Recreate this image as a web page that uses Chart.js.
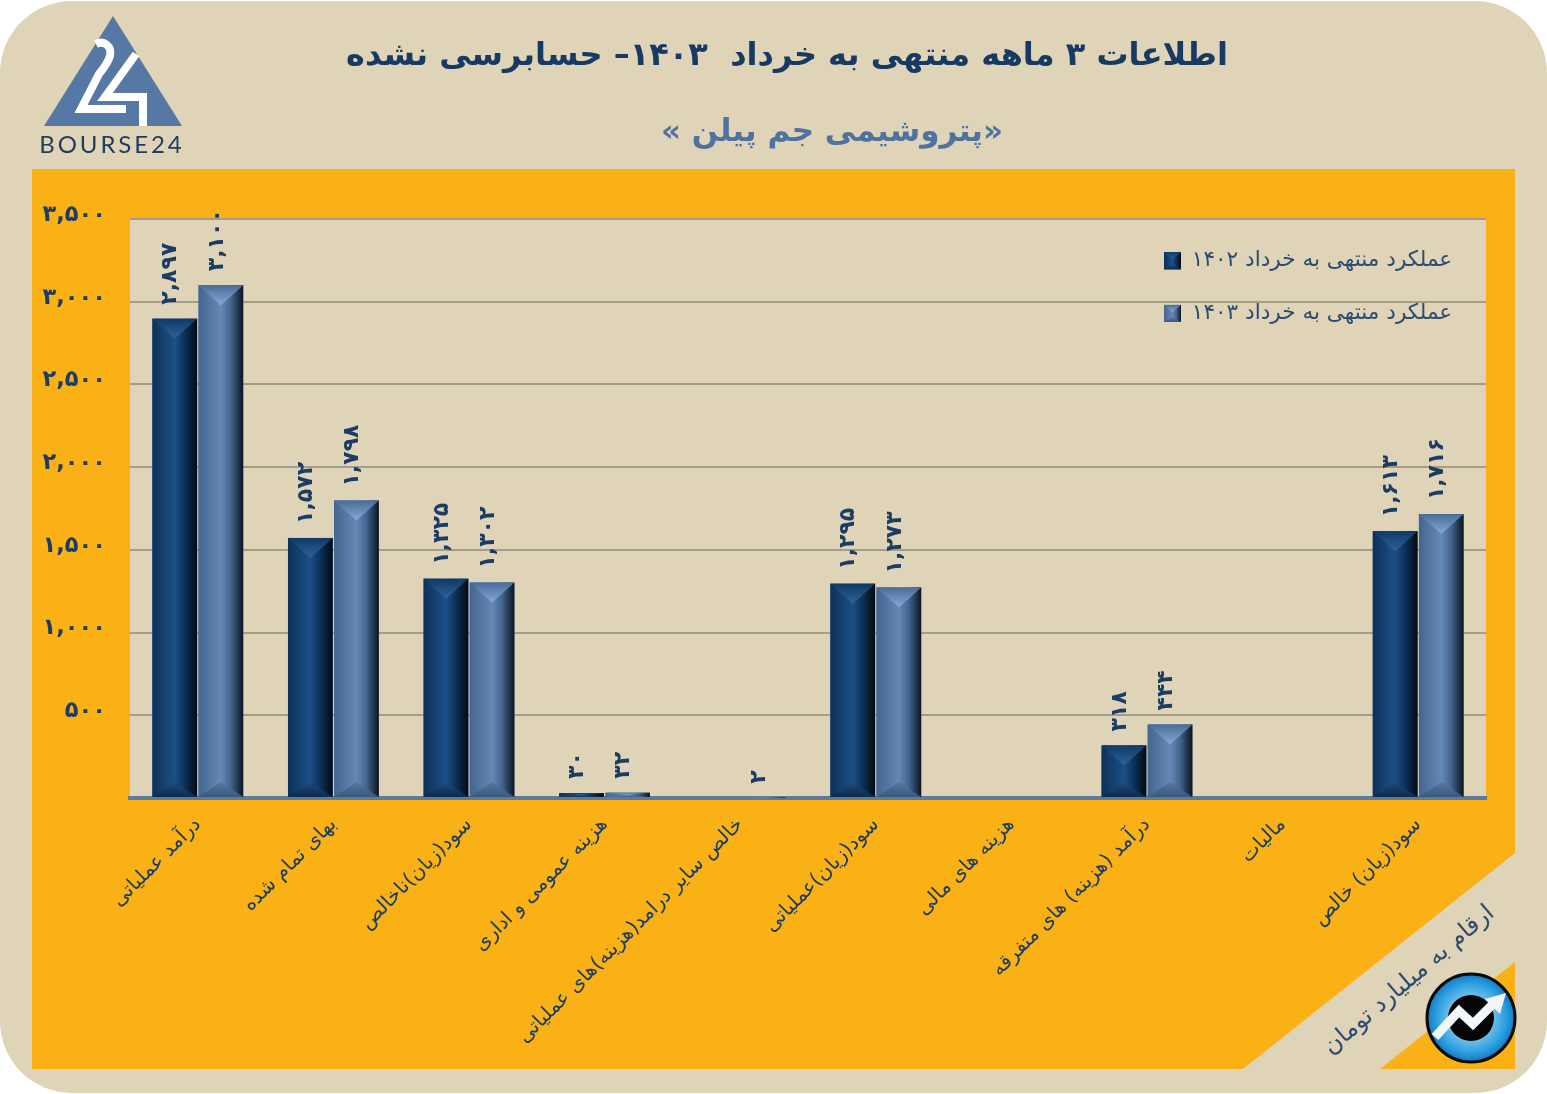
<!DOCTYPE html>
<html lang="fa">
<head>
<meta charset="utf-8">
<title>پتروشیمی جم پیلن</title>
<script src="https://cdn.jsdelivr.net/npm/chart.js@4/dist/chart.umd.min.js"></script>
<style>
html,body{margin:0;padding:0;background:#fff;width:1547px;height:1094px;overflow:hidden}
#stage{position:relative;width:1547px;height:1094px}
#bg,#chart,#over{position:absolute;left:0;top:0}
.t{position:absolute;font-family:"DejaVu Sans",sans-serif;white-space:pre;transform:translate(-50%,-50%);direction:rtl}
#title{left:787px;top:54px;font-size:32px;font-weight:bold;color:#173a62}
#sub{left:832px;top:130px;font-size:31px;font-weight:bold;color:#4f729e}
#note{left:1408px;top:979px;font-size:24px;color:#2c4c72;transform:translate(-50%,-50%) rotate(-40.5deg)}
#brand{left:112px;top:143px;font-family:Lato,sans-serif;font-size:24px;color:#1d3c5e;letter-spacing:2.9px;direction:ltr}
</style>
</head>
<body>
<div id="stage">
<svg id="bg" width="1547" height="1094" viewBox="0 0 1547 1094">
  <rect x="0" y="1" width="1547" height="1092" rx="72" fill="#dfd3b8"/>
  <polygon points="32,169 1515,169 1515,853 1243,1069 32,1069" fill="#f9b116"/>
  <polygon points="1380,1069 1515,1069 1515,962" fill="#f9b116"/>
</svg>
<canvas id="chart" width="1547" height="1094"></canvas>
<svg id="over" width="1547" height="1094" viewBox="0 0 1547 1094">
  <defs>
    <radialGradient id="blue" cx="50%" cy="50%" r="50%">
      <stop offset="0.45" stop-color="#7cc4ee"/><stop offset="0.8" stop-color="#2a9ee0"/><stop offset="1" stop-color="#1577c0"/>
    </radialGradient>
  </defs>
  <polygon points="113,16 182,126 44,126" fill="#5578a4"/>
  <path d="M96,44 C104,40 112,46 110,56 C108,62 104,68 99,74 L81,109 L126,109" fill="none" stroke="#fff" stroke-width="8"/>
  <path d="M136,54 L105,97 L143,97 L143,126" fill="none" stroke="#fff" stroke-width="8"/>
  <circle cx="1471" cy="1018" r="44" fill="url(#blue)" stroke="#0a0a0a" stroke-width="3"/>
  <circle cx="1471" cy="1018" r="23" fill="#050505"/>
  <polyline points="1435,1037 1459,1011 1473,1024 1494,1003" fill="none" stroke="#f2f6f8" stroke-width="9"/>
  <polygon points="1506,993 1500,1014 1485,999" fill="#f2f6f8"/>
</svg>
<div class="t" id="title">اطلاعات ۳ ماهه منتهی به خرداد  ۱۴۰۳– حسابرسی نشده</div>
<div class="t" id="sub">«پتروشیمی جم پیلن »</div>
<div class="t" id="note">ارقام به میلیارد تومان</div>
<div class="t" id="brand">BOURSE24</div>
</div>
<script>
const categories = [
  'درآمد عملیاتی',
  'بهای تمام شده',
  'سود(زیان)ناخالص',
  'هزینه عمومی و اداری',
  'خالص سایر درامد(هزینه)های عملیاتی',
  'سود(زیان)عملیاتی',
  'هزینه های مالی',
  'درآمد (هزینه) های متفرقه',
  'مالیات',
  'سود(زیان) خالص'
];
const series1402 = [2897, 1572, 1325, 30, 0, 1295, 0, 318, 0, 1613];
const series1403 = [3100, 1798, 1302, 32, 2, 1273, 0, 444, 0, 1716];
const seriesNames = ['عملکرد منتهی به خرداد ۱۴۰۲', 'عملکرد منتهی به خرداد ۱۴۰۳'];
const yTicks = [0, 500, 1000, 1500, 2000, 2500, 3000, 3500];

const INK = '#1b3d63';
const FONT = '"DejaVu Sans", sans-serif';
const LEGEND_GAP = 31;
const LEGEND_FONT = 21.6;
const fa = n => String(n).replace(/\B(?=(\d{3})+$)/g, ',').replace(/\d/g, d => '۰۱۲۳۴۵۶۷۸۹'[d]);

const looks = [
  {edge:'#0d3159', mid:'#1c4f85', dark:'#020912', topA:'#0f3a68', topB:'#2f6299', botA:'#0b2b4f', botB:'#1f4a78'},
  {edge:'#44658f', mid:'#6688b5', dark:'#0b1420', topA:'#4a6c98', topB:'#86a9db', botA:'#3a587d', botB:'#54779f'}
];

function paintBevel(ctx, x0, x1, yTop, yBot, look, topDepth, botDepth) {
  const xm = (x0 + x1) / 2;
  const g = ctx.createLinearGradient(x0, 0, x1, 0);
  g.addColorStop(0, look.edge);
  g.addColorStop(0.5, look.mid);
  g.addColorStop(0.72, look.edge);
  g.addColorStop(1, look.dark);
  ctx.fillStyle = g;
  ctx.fillRect(x0, yTop, x1 - x0, yBot - yTop);
  if (topDepth > 1) {
    const t = ctx.createLinearGradient(0, yTop, 0, yTop + topDepth);
    t.addColorStop(0, look.topA);
    t.addColorStop(1, look.topB);
    ctx.fillStyle = t;
    ctx.beginPath(); ctx.moveTo(x0, yTop); ctx.lineTo(x1, yTop); ctx.lineTo(xm, yTop + topDepth); ctx.closePath(); ctx.fill();
  }
  if (botDepth > 1) {
    const b = ctx.createLinearGradient(0, yBot, 0, yBot - botDepth);
    b.addColorStop(0, look.botA);
    b.addColorStop(1, look.botB);
    ctx.fillStyle = b;
    ctx.beginPath(); ctx.moveTo(x0, yBot); ctx.lineTo(x1, yBot); ctx.lineTo(xm, yBot - botDepth); ctx.closePath(); ctx.fill();
  }
}

const panelPlugin = {
  id: 'panel',
  beforeDraw(chart) {
    const {ctx, chartArea: a} = chart;
    ctx.save();
    ctx.fillStyle = '#dfd3b8';
    ctx.fillRect(a.left, a.top, a.right - a.left, a.bottom - a.top);
    ctx.restore();
  }
};

const legendPlacer = {
  id: 'legendPlacer',
  afterLayout(chart) {
    const l = chart.legend;
    const dx = 1164 - LEGEND_GAP - l.left, dy = 250 - LEGEND_GAP - l.top;
    l.left += dx; l.right += dx; l.top += dy; l.bottom += dy;
  }
};

const bevelPlugin = {
  id: 'bevel',
  afterDatasetsDraw(chart) {
    const ctx = chart.ctx;
    ctx.save();
    chart.data.datasets.forEach((ds, i) => {
      chart.getDatasetMeta(i).data.forEach((bar, j) => {
        if (!ds.data[j]) return;
        const x0 = bar.x - bar.width / 2, x1 = bar.x + bar.width / 2;
        const h = bar.base - bar.y;
        paintBevel(ctx, x0, x1, bar.y, bar.base, looks[i], Math.min(20, h * 0.42), Math.min(15, h * 0.28));
      });
      const l = chart.legend;
      const sx = l.left + LEGEND_GAP;
      const sy = l.top + LEGEND_GAP + i * (LEGEND_FONT + LEGEND_GAP) + (LEGEND_FONT - 17) / 2;
      paintBevel(ctx, sx, sx + 17, sy, sy + 17, looks[i], 7, 5);
    });
    ctx.restore();
  }
};

const valueLabels = {
  id: 'valueLabels',
  afterDatasetsDraw(chart) {
    const ctx = chart.ctx;
    ctx.save();
    ctx.fillStyle = INK;
    ctx.font = 'bold 22px ' + FONT;
    ctx.textAlign = 'left';
    ctx.textBaseline = 'middle';
    chart.data.datasets.forEach((ds, i) => {
      chart.getDatasetMeta(i).data.forEach((bar, j) => {
        if (!ds.data[j]) return;
        ctx.save();
        ctx.translate(bar.x - 4, bar.y - 14);
        ctx.rotate(-Math.PI / 2);
        ctx.fillText(fa(ds.data[j]), 0, 0);
        ctx.restore();
      });
    });
    ctx.restore();
  }
};

new Chart(document.getElementById('chart'), {
  type: 'bar',
  data: {
    labels: categories,
    datasets: [
      {label: seriesNames[0], data: series1402, backgroundColor: '#1c4f85', categoryPercentage: 0.68, barPercentage: 0.97},
      {label: seriesNames[1], data: series1403, backgroundColor: '#6688b5', categoryPercentage: 0.68, barPercentage: 0.97}
    ]
  },
  options: {
    responsive: false,
    animation: false,
    layout: {padding: {left: 30, top: 219, right: 61, bottom: 0}},
    plugins: {
      tooltip: {enabled: false},
      title: {display: false},
      legend: {
        position: 'chartArea',
        align: 'start',
        textDirection: 'rtl',
        labels: {
          color: '#2c4c72',
          font: {family: FONT, size: LEGEND_FONT},
          boxWidth: 17,
          boxHeight: 17,
          padding: LEGEND_GAP
        }
      }
    },
    scales: {
      x: {
        afterFit(s) { s.height = 296; s.paddingLeft = 0; s.paddingRight = 0; },
        grid: {display: false, drawTicks: false},
        border: {display: true, color: '#5d7b9e', width: 4},
        ticks: {
          autoSkip: false, minRotation: 45, maxRotation: 45, padding: 15,
          color: INK, font: {family: FONT, size: 20}
        }
      },
      y: {
        min: 0, max: 3500,
        afterFit(s) { s.width = 100; s.paddingTop = 0; s.paddingBottom = 0; },
        afterBuildTicks(s) { s.ticks = yTicks.map(v => ({value: v})); },
        grid: {color: '#a39d8c', lineWidth: 2, drawTicks: false},
        border: {display: false},
        ticks: {
          padding: 24, labelOffset: -4, color: INK,
          font: {family: FONT, size: 22.5, weight: 'bold'},
          callback: v => v === 0 ? '' : fa(v)
        }
      }
    }
  },
  plugins: [panelPlugin, legendPlacer, bevelPlugin, valueLabels]
});
</script>
</body>
</html>
